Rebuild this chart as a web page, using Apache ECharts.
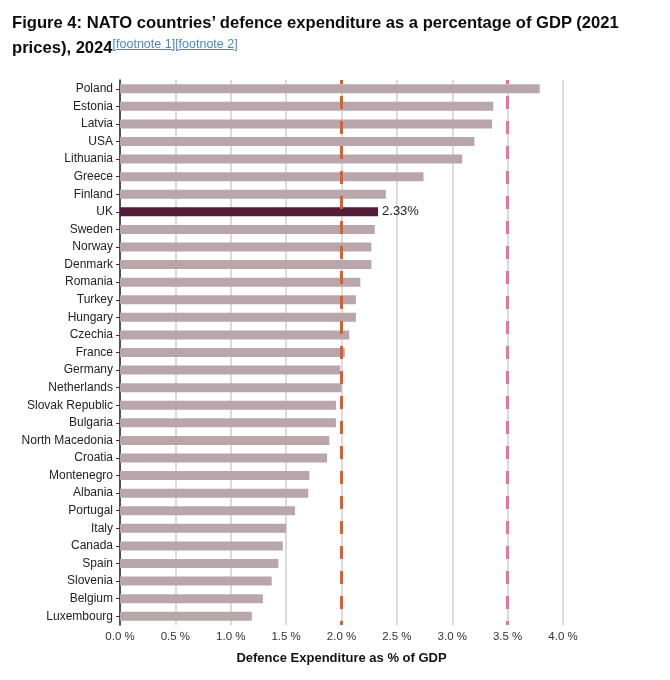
<!doctype html>
<html lang="en">

<head>
  <meta charset="UTF-8">
  <title>NATO defence expenditure</title>
  <style>
    body {
      margin: 0;
      background: #fff;
    }

    #title {
      position: absolute;
      z-index: 10;
      left: 12px;
      top: 13px;
      width: 655px;
      white-space: nowrap;
      font-family: "Liberation Sans", Arial, sans-serif;
      font-weight: bold;
      font-size: 16.6px;
      line-height: 20px;
      color: #0b0c0c;
    }

    #title sup {
      vertical-align: 5px;
    }

    #title sup a {
      font-weight: normal;
      font-size: 12.5px;
      color: #4a86c8;
      text-decoration: underline;
    }

    #bar-chart {
      width: 670px;
      height: 680px;
    }
  </style>
  <script src="https://cdn.jsdelivr.net/npm/echarts@6/dist/echarts.min.js"></script>
</head>

<body>
  <div id="title">Figure 4: NATO countries’ defence expenditure as a percentage of GDP (2021<br>prices),
    2024<sup><a href="#">[footnote 1]</a><a href="#">[footnote 2]</a></sup></div>
  <div id="bar-chart"></div>
  <script>
    var countries = ['Poland', 'Estonia', 'Latvia', 'USA', 'Lithuania', 'Greece', 'Finland', 'UK',
      'Sweden', 'Norway', 'Denmark', 'Romania', 'Turkey', 'Hungary', 'Czechia', 'France', 'Germany',
      'Netherlands', 'Slovak Republic', 'Bulgaria', 'North Macedonia', 'Croatia', 'Montenegro',
      'Albania', 'Portugal', 'Italy', 'Canada', 'Spain', 'Slovenia', 'Belgium', 'Luxembourg'];
    var spend = [3.79, 3.37, 3.36, 3.20, 3.09, 2.74, 2.40, 2.33,
      2.30, 2.27, 2.27, 2.17, 2.13, 2.13, 2.07, 2.03, 1.99,
      2.00, 1.95, 1.95, 1.89, 1.87, 1.71,
      1.70, 1.58, 1.50, 1.47, 1.43, 1.37, 1.29, 1.19];
    var xTicks = [0, 0.5, 1, 1.5, 2, 2.5, 3, 3.5, 4];
    var highlight = 'UK';

    var myChart = echarts.init(document.getElementById('bar-chart'));

    var barData = spend.map(function (v, i) {
      if (countries[i] == highlight) {
        return {
          value: v,
          itemStyle: { color: '#521d36' },
          label: {
            show: true,
            position: 'right',
            distance: 4,
            fontSize: 13,
            color: '#222',
            formatter: '{c}%'
          }
        };
      }
      return v;
    });

    var option = {
      backgroundColor: 'transparent',
      textStyle: { fontFamily: 'Liberation Sans, Arial, sans-serif' },
      grid: {
        left: 120,
        right: 107,
        top: 80,
        bottom: 55
      },
      xAxis: {
        type: 'value',
        min: xTicks[0],
        max: xTicks[xTicks.length - 1],
        interval: 0.5,
        name: 'Defence Expenditure as % of GDP',
        nameLocation: 'middle',
        nameGap: 27,
        nameTextStyle: { fontSize: 13, fontWeight: 'bold', color: '#111' },
        axisLine: { lineStyle: { color: '#222', width: 1.5 } },
        axisTick: { show: false },
        axisLabel: {
          fontSize: 11.5,
          color: '#333',
          margin: 6,
          formatter: function (v) { return v.toFixed(1) + ' %'; }
        },
        splitLine: { show: true, lineStyle: { color: '#cfcfcf', width: 1.5 } }
      },
      yAxis: {
        type: 'category',
        inverse: true,
        data: countries,
        axisLine: { lineStyle: { color: '#222', width: 1.5 } },
        axisTick: { show: true, length: 4, alignWithLabel: true, lineStyle: { color: '#333' } },
        axisLabel: { fontSize: 12, color: '#222', margin: 7 }
      },
      series: [{
        type: 'bar',
        data: barData,
        barWidth: 9,
        itemStyle: { color: '#b8a6ab' },
        markLine: {
          silent: true,
          symbol: 'none',
          label: { show: false },
          data: [
            { xAxis: 2, lineStyle: { color: '#dc5f26', width: 3, type: [13, 12], dashOffset: 9 } },
            { xAxis: 3.5, lineStyle: { color: '#ee7099', width: 3, type: [13, 12], dashOffset: 9 } }
          ]
        }
      }]
    };
    myChart.setOption(option);
  </script>
</body>

</html>
